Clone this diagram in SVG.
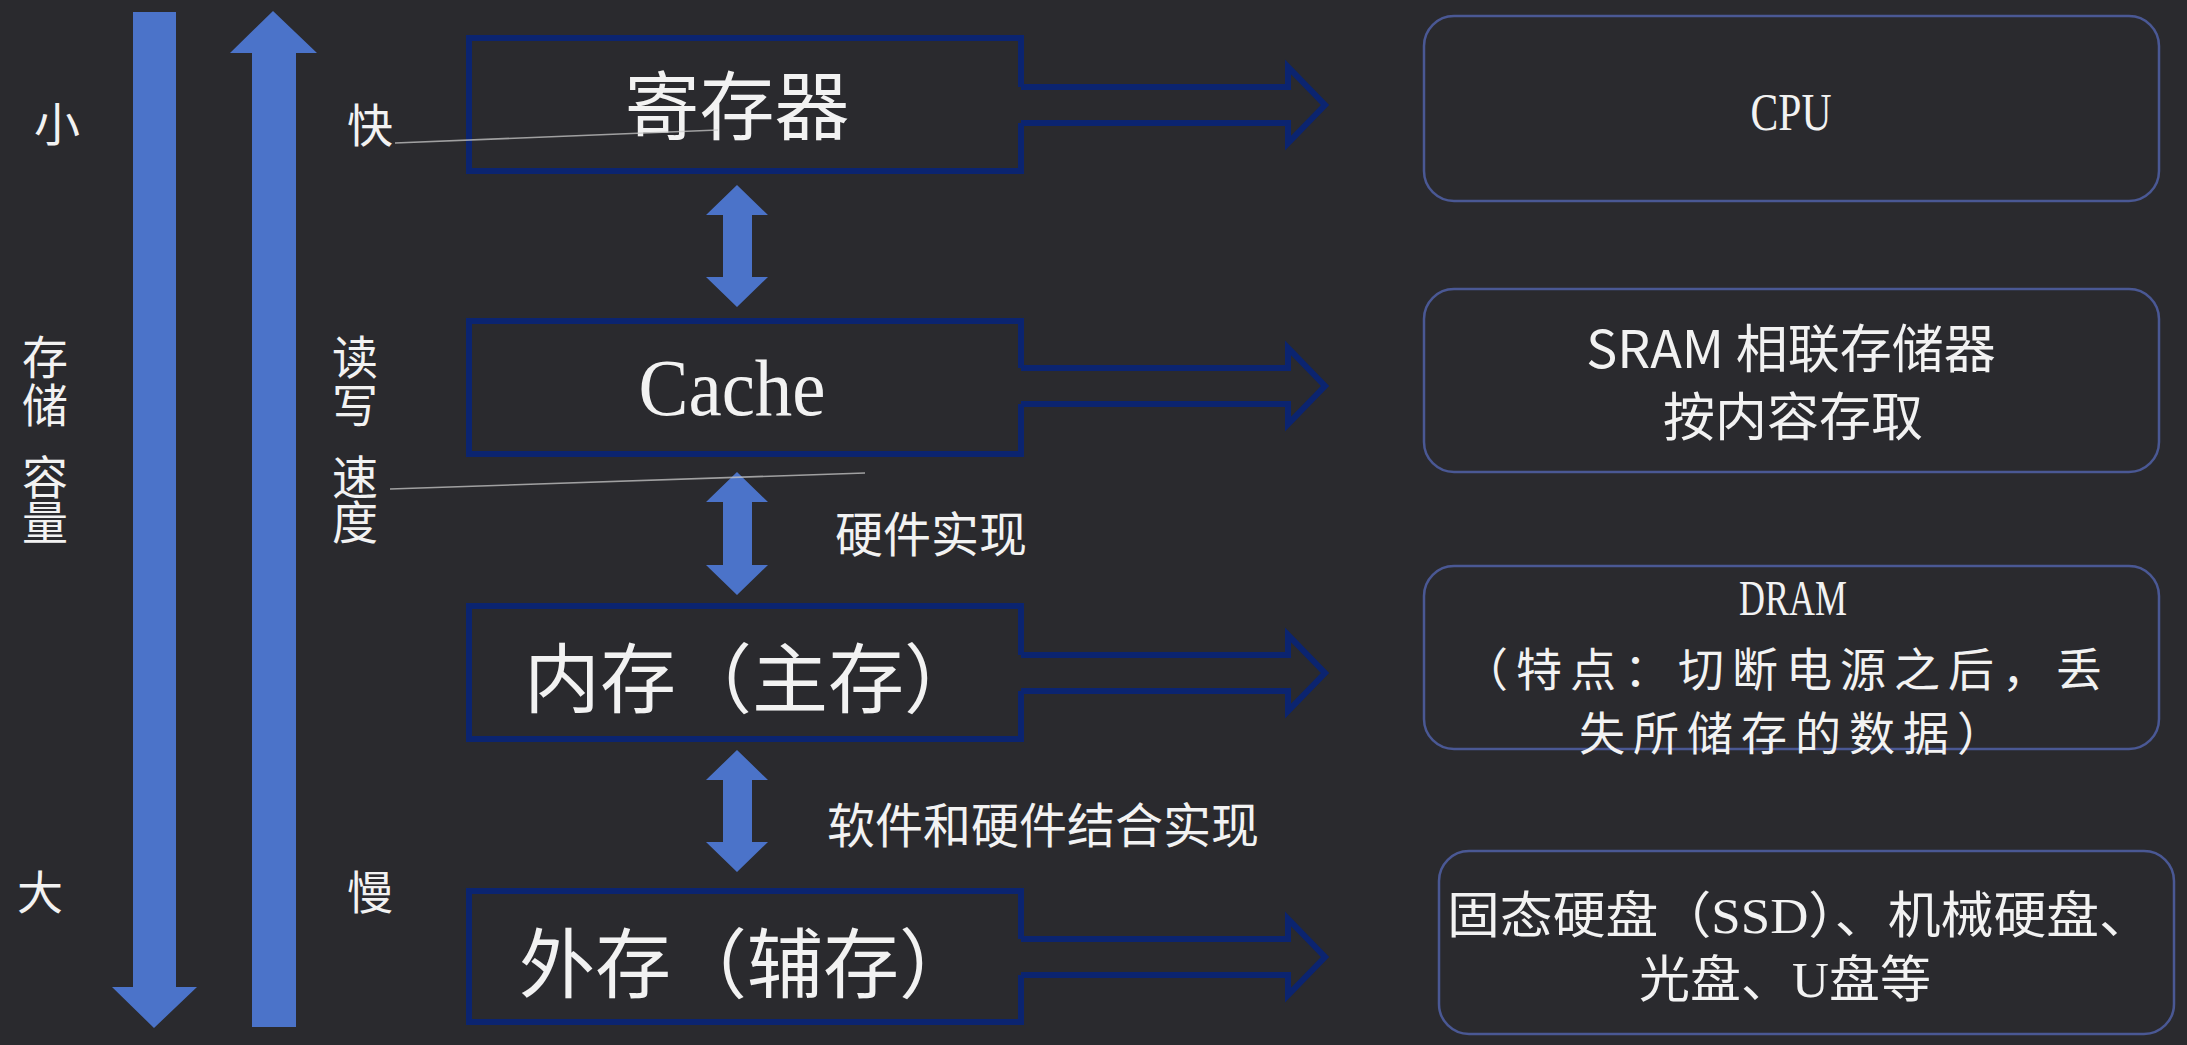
<svg xmlns="http://www.w3.org/2000/svg" width="2187" height="1045" viewBox="0 0 2187 1045">
<style>
.bg{fill:#2a2a2e}
.blue{fill:#4b73c9}
.box{fill:none;stroke:#0b2470;stroke-width:6;stroke-linejoin:miter}
.rbox{fill:none;stroke:#4a5894;stroke-width:2.5}
.cjk{font-family:"Noto Sans CJK SC",sans-serif;fill:#f2f2f2}
.ser{font-family:"Liberation Serif","Noto Sans CJK SC",serif;fill:#f2f2f2}
.gl{stroke:#c8c8c8;stroke-width:1.6;opacity:0.75;fill:none}
</style>
<rect class="bg" x="0" y="0" width="2187" height="1045"/>

<g id="axis-capacity">
<path class="blue" d="M133,12 H176 V987 H197 L154,1028 L112,987 H133 Z"/>
<text class="cjk" x="57" y="141" font-size="46" text-anchor="middle">小</text>
<text class="cjk" font-size="46" text-anchor="middle"><tspan x="45" y="374">存</tspan><tspan x="45" y="422">储</tspan><tspan x="45" y="494">容</tspan><tspan x="45" y="539">量</tspan></text>
<text class="cjk" x="40" y="909" font-size="46" text-anchor="middle">大</text>
</g>

<g id="axis-speed">
<path class="blue" d="M273,11 L317,53 H296 V1027 H252 V53 H230 Z"/>
<text class="cjk" x="370" y="142" font-size="46" text-anchor="middle">快</text>
<text class="cjk" font-size="46" text-anchor="middle"><tspan x="355" y="374">读</tspan><tspan x="355" y="422">写</tspan><tspan x="355" y="494">速</tspan><tspan x="355" y="539">度</tspan></text>
<text class="cjk" x="370" y="909" font-size="46" text-anchor="middle">慢</text>
</g>

<g id="node-register">
<path class="box" d="M1021,87 V38 H469 V171 H1021 V123"/>
<text class="cjk" x="737" y="134" font-size="75" text-anchor="middle">寄存器</text>
</g>

<g id="node-cache">
<path class="box" d="M1021,368 V321 H469 V454 H1021 V404"/>
<text class="ser" x="732" y="415" font-size="80" text-anchor="middle" textLength="187" lengthAdjust="spacingAndGlyphs">Cache</text>
</g>

<g id="node-main-memory">
<path class="box" d="M1021,655 V606 H469 V739 H1021 V691"/>
<text class="cjk" x="524" y="707" font-size="76">内存（主存）</text>
</g>

<g id="node-external">
<path class="box" d="M1021,939 V891 H469 V1022 H1021 V975"/>
<text class="cjk" x="519" y="992" font-size="76">外存（辅存）</text>
</g>

<g id="node-cpu">
<rect class="rbox" x="1424" y="16" width="735" height="185" rx="30"/>
<text class="ser" x="1791" y="130" font-size="53" text-anchor="middle" textLength="81" lengthAdjust="spacingAndGlyphs">CPU</text>
</g>

<g id="node-sram">
<rect class="rbox" x="1424" y="289" width="735" height="183" rx="30"/>
<text class="cjk" x="1791" y="368" font-size="52" text-anchor="middle">SRAM 相联存储器</text>
<text class="cjk" x="1793" y="436" font-size="52" text-anchor="middle">按内容存取</text>
</g>

<g id="node-dram">
<rect class="rbox" x="1424" y="566" width="735" height="183" rx="30"/>
<text class="ser" x="1793" y="615" font-size="50" text-anchor="middle" textLength="108" lengthAdjust="spacingAndGlyphs">DRAM</text>
<text class="cjk" x="1462" y="686" font-size="46" letter-spacing="8">（特点：切断电源之后，丢</text>
<text class="cjk" x="1579" y="750" font-size="46" letter-spacing="8">失所储存的数据）</text>
</g>

<g id="node-storage">
<rect class="rbox" x="1439" y="851" width="735" height="183" rx="30"/>
<text class="ser" x="1447" y="933" font-size="50" textLength="705" lengthAdjust="spacingAndGlyphs">固态硬盘（SSD）、机械硬盘、</text>
<text class="ser" x="1639" y="997" font-size="50" textLength="292" lengthAdjust="spacingAndGlyphs">光盘、U盘等</text>
</g>

<g id="connectors">
<path class="box" d="M1021,87 H1288 V67 L1325,105 L1288,143 V123 H1021" stroke-width="5"/>
<path class="box" d="M1021,368 H1288 V348 L1325,386 L1288,424 V404 H1021" stroke-width="5"/>
<path class="box" d="M1021,655 H1288 V635 L1325,673 L1288,711 V691 H1021" stroke-width="5"/>
<path class="box" d="M1021,939 H1288 V919 L1325,957 L1288,995 V975 H1021" stroke-width="5"/>
<path class="blue" d="M737,185 L768,215 H752 V277 H768 L737,307 L706,277 H723 V215 H706 Z"/>
<path class="blue" d="M737,472 L768,502 H752 V565 H768 L737,595 L706,565 H723 V502 H706 Z"/>
<path class="blue" d="M737,750 L768,780 H752 V842 H768 L737,872 L706,842 H723 V780 H706 Z"/>
<text class="cjk" x="835" y="552" font-size="48">硬件实现</text>
<text class="cjk" x="827" y="843" font-size="48">软件和硬件结合实现</text>
<line class="gl" x1="395" y1="143" x2="718" y2="130"/>
<line class="gl" x1="390" y1="489" x2="865" y2="473"/>
</g>
</svg>
